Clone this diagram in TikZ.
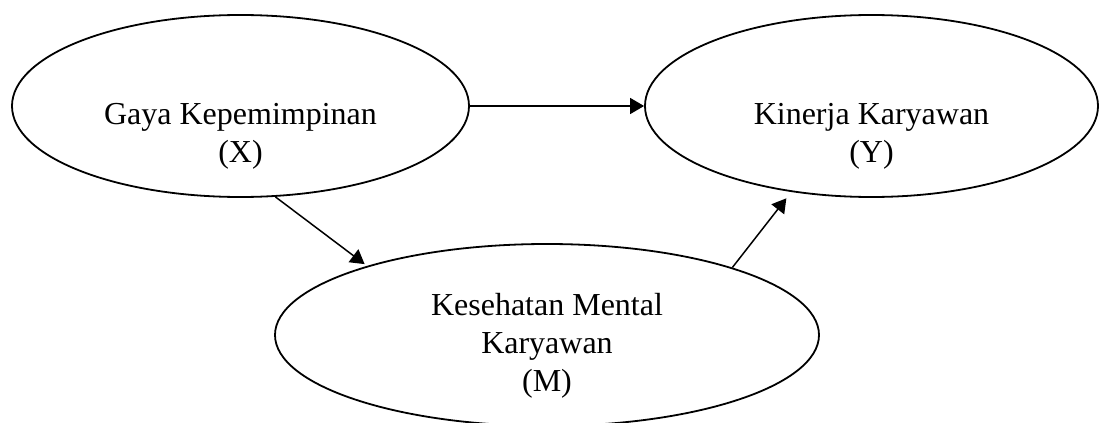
\documentclass[tikz,border=0pt]{standalone}
\usepackage{fontspec}
\setmainfont{Liberation Serif}
\usetikzlibrary{arrows.meta, positioning, shapes.geometric}

\begin{document}
\begin{tikzpicture}[
    x=0.5pt, y=-0.5pt,
    oval/.style={draw, ellipse, line width=0.9pt, inner sep=0pt, minimum height=91pt},
    lbl/.style={align=center, anchor=north, inner sep=0pt, font=\fontsize{16}{19}\selectfont},
    arr/.style={-{Triangle[length=7pt, width=8pt]}, line width=0.75pt}
]
\useasboundingbox (0,0) rectangle (1099,423);

\node[oval, minimum width=228.5pt] (gaya) at (240.5,106) {};
\node[oval, minimum width=226.5pt] (kinerja) at (871.5,106) {};
\node[oval, minimum width=272pt] (sehat) at (547,335) {};

\node[lbl, below=44.5pt of gaya.north] (gayatxt) {Gaya Kepemimpinan\\(X)};
\node[lbl, below=44.5pt of kinerja.north] (kinerjatxt) {Kinerja Karyawan\\(Y)};
\node[lbl, below=25pt of sehat.north] (sehattxt) {Kesehatan Mental\\Karyawan\\(M)};

\draw[arr] (gaya) -- (kinerja);
\draw[arr, shorten >=1.5pt] (gaya.-69) -- (sehat.159);
\draw[arr, shorten >=4pt] (sehat.20.6) -- (kinerja.-133);
\end{tikzpicture}
\end{document}
